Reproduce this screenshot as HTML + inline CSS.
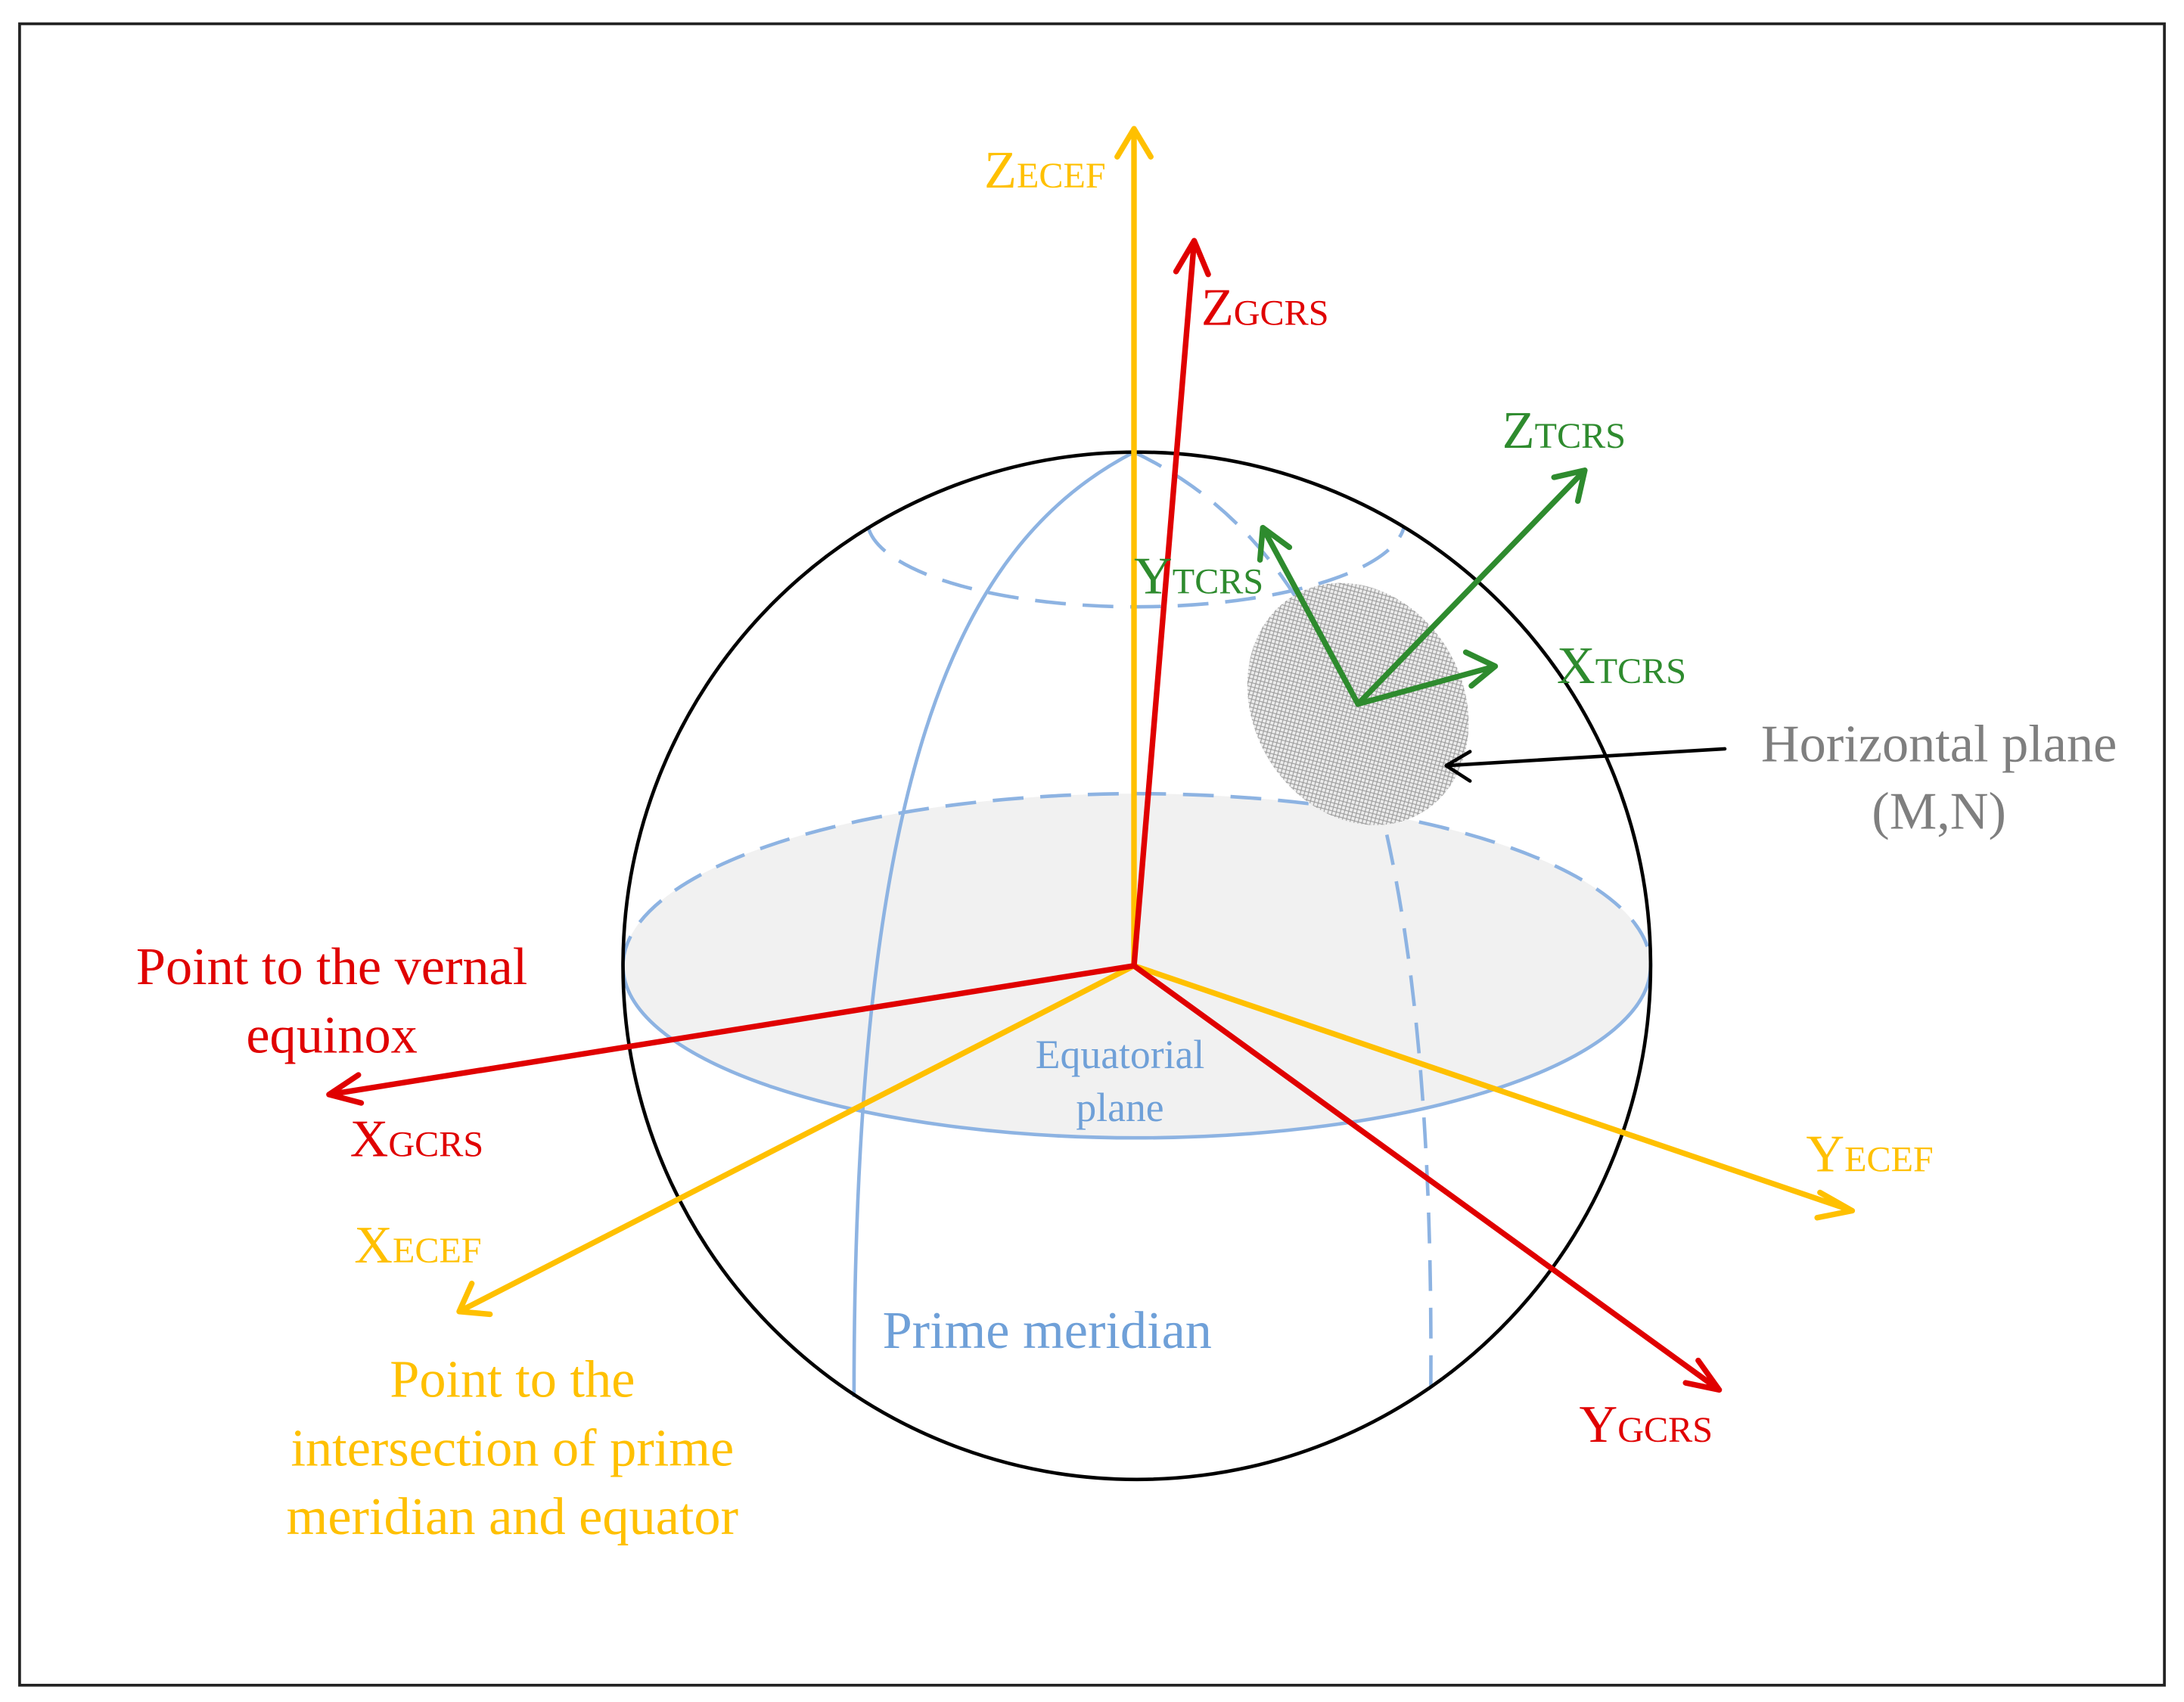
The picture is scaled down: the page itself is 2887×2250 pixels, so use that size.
<!DOCTYPE html>
<html><head><meta charset="utf-8"><style>html,body{margin:0;padding:0;background:#fff}svg{display:block}</style></head>
<body>
<svg width="2887" height="2250" viewBox="0 0 1560 1216" preserveAspectRatio="none" xmlns="http://www.w3.org/2000/svg" font-family="'Liberation Serif', serif">
<defs>
<pattern id="hatch" width="4" height="4" patternUnits="userSpaceOnUse">
<rect width="4" height="4" fill="#ececec"/>
<path d="M0,0L4,4M4,0L0,4" stroke="#999" stroke-width="0.6"/>
</pattern>
</defs>
<rect x="14" y="17" width="1532" height="1187" fill="#fff" stroke="#222" stroke-width="2"/>
<ellipse cx="812" cy="690" rx="367" ry="123" fill="#f1f1f1" stroke="none"/>
<path d="M445,690 A367,123 0 0,0 1179,690" fill="none" stroke="#8db3e2" stroke-width="2.5"/>
<path d="M445,690 A367,123 0 0,1 1179,690" fill="none" stroke="#8db3e2" stroke-width="2.5" stroke-dasharray="22,12"/>
<path d="M620,376 A192,62 0 0,0 1003,376" fill="none" stroke="#8db3e2" stroke-width="2.5" stroke-dasharray="22,12"/>
<path d="M810,323 C680,390 610,560 610,998" fill="none" stroke="#8db3e2" stroke-width="2.5"/>
<path d="M810,323 C950,390 1025,560 1022,993" fill="none" stroke="#8db3e2" stroke-width="2.5" stroke-dasharray="22,12"/>
<circle cx="812" cy="690" r="367" fill="none" stroke="#000" stroke-width="2.5"/>
<ellipse cx="970" cy="503" rx="75" ry="90" transform="rotate(-30 970 503)" fill="url(#hatch)"/>
<g fill="none" stroke-width="4" stroke-linecap="round" stroke-linejoin="round">
<g stroke="#ffc000">
<path d="M810,690L810,92M798,112L810,92L822,112"/>
<path d="M810,690L328,937M337,917L328,937L350,939"/>
<path d="M810,690L1323,865M1300,852L1323,865L1298,870"/>
</g>
<g stroke="#e00000">
<path d="M810,690L853,172M840,194L853,172L863,196"/>
<path d="M810,690L235,782M256,768L235,782L258,788"/>
<path d="M810,690L1228,993M1213,972L1228,993L1204,988"/>
</g>
<g stroke="#2e8b2e">
<path d="M970,503L1132,336M1110,341L1132,336L1127,358"/>
<path d="M970,503L1068,476M1047,466L1068,476L1051,490"/>
<path d="M970,503L902,377M900,400L902,377L921,391"/>
</g>
<path d="M1232,535L1033,547M1050,537L1033,547L1050,558" stroke="#000" stroke-width="2.5"/>
</g>
<g font-size="38">
<text x="703" y="134" fill="#ffc000">Z<tspan font-size="26">ECEF</tspan></text>
<text x="858" y="232" fill="#e00000">Z<tspan font-size="26">GCRS</tspan></text>
<text x="1073" y="320" fill="#2e8b2e">Z<tspan font-size="26">TCRS</tspan></text>
<text x="810" y="424" fill="#2e8b2e">Y<tspan font-size="26">TCRS</tspan></text>
<text x="1112" y="488" fill="#2e8b2e">X<tspan font-size="26">TCRS</tspan></text>
<text x="250" y="826" fill="#e00000">X<tspan font-size="26">GCRS</tspan></text>
<text x="253" y="902" fill="#ffc000">X<tspan font-size="26">ECEF</tspan></text>
<text x="1290" y="837" fill="#ffc000">Y<tspan font-size="26">ECEF</tspan></text>
<text x="1128" y="1030" fill="#e00000">Y<tspan font-size="26">GCRS</tspan></text>
</g>
<g font-size="38" text-anchor="middle">
<text x="237" y="703" fill="#e00000">Point to the vernal</text>
<text x="237" y="752" fill="#e00000">equinox</text>
<text x="366" y="998" fill="#ffc000">Point to the</text>
<text x="366" y="1047" fill="#ffc000">intersection of prime</text>
<text x="366" y="1096" fill="#ffc000">meridian and equator</text>
<text x="1385" y="544" fill="#7f7f7f">Horizontal plane</text>
<text x="1385" y="592" fill="#7f7f7f">(M,N)</text>
<text x="748" y="963" fill="#6fa0d8">Prime meridian</text>
</g>
<g font-size="29" text-anchor="middle" fill="#6fa0d8">
<text x="800" y="763">Equatorial</text>
<text x="800" y="801">plane</text>
</g>
</svg>
</body></html>
